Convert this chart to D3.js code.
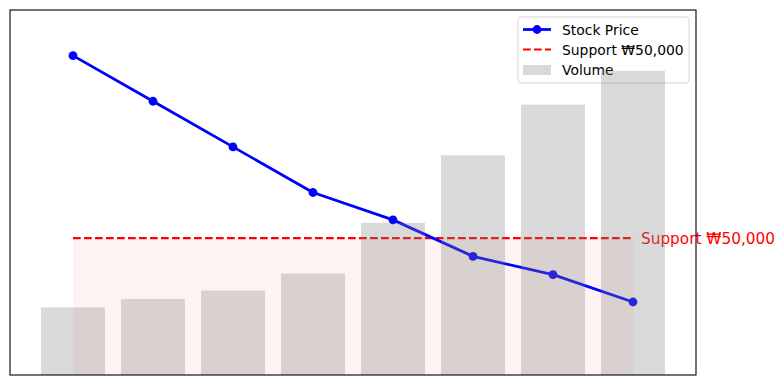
<!DOCTYPE html>
<html>
<head>
<meta charset="utf-8">
<script src="https://cdn.jsdelivr.net/npm/d3@7"></script>
<style>
  html, body { margin: 0; padding: 0; background: #ffffff; }
  svg { display: block; font-family: "DejaVu Sans", sans-serif; }
</style>
</head>
<body>
<svg id="chart" width="784" height="390"></svg>
<script>
// ---- Data ----
const categories = ["Day 1", "Day 2", "Day 3", "Day 4", "Day 5", "Day 6", "Day 7", "Day 8"];
const prices = [70000, 65000, 60000, 55000, 52000, 48000, 46000, 43000];
const volumes = [400000, 450000, 500000, 600000, 900000, 1300000, 1600000, 1800000];
const supportLevel = 50000;
const priceDomain = [35000, 75000];
const legendLabels = ["Stock Price", "Support \u20A950,000", "Volume"];
const supportLabel = "Support \u20A950,000";

// ---- Layout ----
const W = 784, H = 390;
const L = 10, R = 696, T = 10, B = 375;

const svg = d3.select("#chart");

const x = d3.scalePoint().domain(categories).range([L, R]).padding(0.7875);
const step = x.step();
const barW = step * 0.8;
const y = d3.scaleLinear().domain(priceDomain).range([B, T]);
const yv = d3.scaleLinear().domain([0, d3.max(volumes) * 1.2]).range([B, T]);

const clipId = "plotclip";
svg.append("defs").append("clipPath").attr("id", clipId)
  .append("rect").attr("x", L).attr("y", T).attr("width", R - L).attr("height", B - T);

const plot = svg.append("g").attr("clip-path", `url(#${clipId})`);

// Support zone fill
const area = d3.area()
  .x(d => x(d))
  .y0(() => y(priceDomain[0]))
  .y1(() => y(supportLevel));
plot.append("path")
  .datum(categories)
  .attr("d", area)
  .attr("fill", "rgb(255,0,0)")
  .attr("fill-opacity", 0.05);

// Support dashed line
plot.append("line")
  .attr("x1", x(categories[0])).attr("x2", x(categories[categories.length - 1]))
  .attr("y1", y(supportLevel)).attr("y2", y(supportLevel))
  .attr("stroke", "red").attr("stroke-width", 2.08)
  .attr("stroke-dasharray", "7.7,3.3");

// Price line
const line = d3.line().x((d, i) => x(categories[i])).y(d => y(d));
plot.append("path")
  .datum(prices)
  .attr("d", line)
  .attr("fill", "none")
  .attr("stroke", "blue")
  .attr("stroke-width", 2.78)
  .attr("stroke-linejoin", "round");
plot.selectAll("circle.pt")
  .data(prices)
  .join("circle")
  .attr("class", "pt")
  .attr("cx", (d, i) => x(categories[i]))
  .attr("cy", d => y(d))
  .attr("r", 4.4)
  .attr("fill", "blue");

// Support label text
svg.append("text")
  .attr("x", x(categories[categories.length - 1]) + 8)
  .attr("y", y(supportLevel))
  .attr("dy", "0.36em")
  .attr("fill", "red")
  .attr("font-size", "15.3px")
  .text(supportLabel);

// Legend
const lg = svg.append("g");
const lgX = 518, lgY = 17, lgW = 171, lgH = 66;
lg.append("rect")
  .attr("x", lgX).attr("y", lgY).attr("width", lgW).attr("height", lgH)
  .attr("rx", 3).attr("ry", 3)
  .attr("fill", "white").attr("fill-opacity", 0.8)
  .attr("stroke", "#cccccc").attr("stroke-opacity", 0.8).attr("stroke-width", 1);
const rowY = [29.5, 49.5, 70];
const hx0 = 523, hx1 = 551, tx = 562;
// Stock price handle
lg.append("line").attr("x1", hx0).attr("x2", hx1).attr("y1", rowY[0]).attr("y2", rowY[0])
  .attr("stroke", "blue").attr("stroke-width", 2.78);
lg.append("circle").attr("cx", (hx0 + hx1) / 2).attr("cy", rowY[0]).attr("r", 4.4).attr("fill", "blue");
// Support handle
lg.append("line").attr("x1", hx0).attr("x2", hx1).attr("y1", rowY[1]).attr("y2", rowY[1])
  .attr("stroke", "red").attr("stroke-width", 2.08).attr("stroke-dasharray", "7.7,3.3");
// Volume handle
lg.append("rect").attr("x", hx0).attr("y", rowY[2] - 5).attr("width", hx1 - hx0).attr("height", 10)
  .attr("fill", "gray").attr("fill-opacity", 0.3);
lg.selectAll("text.lt")
  .data(legendLabels)
  .join("text")
  .attr("class", "lt")
  .attr("x", tx)
  .attr("y", (d, i) => rowY[i])
  .attr("dy", "0.36em")
  .attr("font-size", "13.9px")
  .attr("fill", "black")
  .text(d => d);

// Volume bars (twin axis, drawn on top)
svg.append("g").attr("clip-path", `url(#${clipId})`)
  .selectAll("rect.bar")
  .data(volumes)
  .join("rect")
  .attr("class", "bar")
  .attr("x", (d, i) => x(categories[i]) - barW / 2)
  .attr("y", d => yv(d))
  .attr("width", barW)
  .attr("height", d => yv(0) - yv(d))
  .attr("fill", "gray")
  .attr("fill-opacity", 0.3);

// Frame
svg.append("rect")
  .attr("x", L).attr("y", T).attr("width", R - L).attr("height", B - T)
  .attr("fill", "none").attr("stroke", "black").attr("stroke-width", 1.1);
</script>
</body>
</html>
